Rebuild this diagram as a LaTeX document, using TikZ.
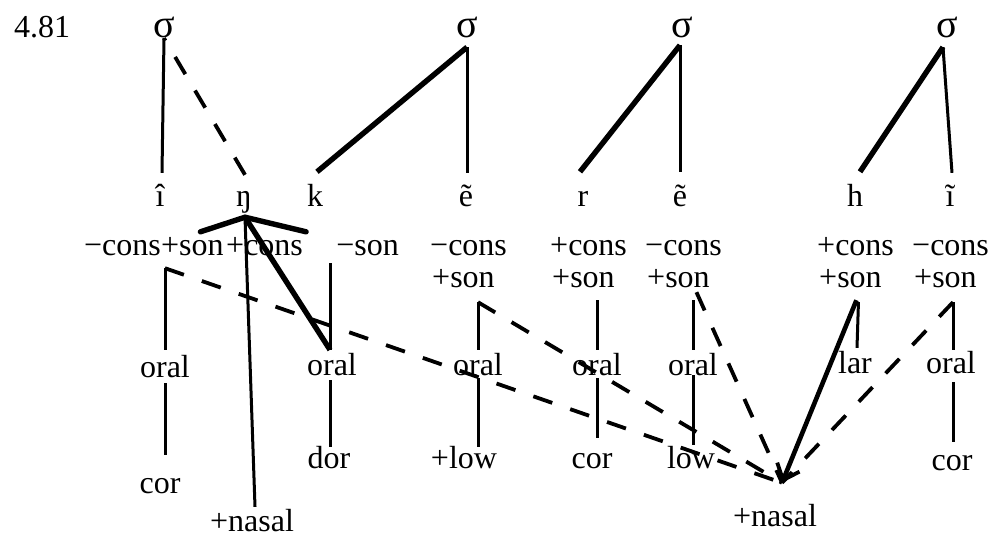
\documentclass[tikz,border=0pt]{standalone}
\usepackage{fontspec}
\setmainfont{Liberation Serif}
\usetikzlibrary{calc,arrows.meta}
\tikzset{
  lab/.style={inner sep=0pt, text height=14pt, text depth=0pt, anchor=base, font=\fontsize{32}{38}\selectfont},
  sig/.style={lab, font=\fontsize{40}{46}\selectfont},
  labw/.style={lab, anchor=base west},
  labe/.style={lab, anchor=base east},
  thinln/.style={line width=3pt},
  thickln/.style={line width=5.4pt},
  dashln/.style={line width=3.8pt, dash pattern=on 20pt off 19pt},
  arrowln/.style={line width=4.6pt, -{Straight Barb[length=14pt,width=24pt,line width=3.8pt]}}
}
\begin{document}
\begin{tikzpicture}[x=1pt,y=-1pt]
\useasboundingbox (0,0) rectangle (991,536);
% label
\node[lab] (num) at (42,37) {4.81};
% syllables
\node[sig] (s1) at (164,37) {σ};
\node[sig] (s2) at (467,37) {σ};
\node[sig] (s3) at (682,37) {σ};
\node[sig] (s4) at (947,37) {σ};
% segments
\node[lab] (i1) at (160,206) {î};
\node[lab] (ng) at (244,206) {ŋ};
\node[lab] (k)  at (315,206) {k};
\node[lab] (e1) at (466,206) {ẽ};
\node[lab] (r)  at (583,206) {r};
\node[lab] (e2) at (680,206) {ẽ};
\node[lab] (h)  at (855,206) {h};
\node[lab] (i2) at (950,206) {ĩ};
% feature row 1
\node[labw] (fa) at (84,255) {−cons};
\node[labw] (fb) at (161,255) {+son};
\node[labw] (fc) at (226,255) {+cons};
\node[labe] (fd) at (399,255) {−son};
\node[labw] (g3a) at (430,255) {−cons};
\node[labw] (g3b) at (432,287) {+son};
\node[labw] (g4a) at (550,255) {+cons};
\node[labw] (g4b) at (552,287) {+son};
\node[labw] (g5a) at (645,255) {−cons};
\node[labw] (g5b) at (647,287) {+son};
\node[labw] (g7a) at (817,255) {+cons};
\node[labw] (g7b) at (819,287) {+son};
\node[labw] (g8a) at (912,255) {−cons};
\node[labw] (g8b) at (914,287) {+son};
% oral row
\node[lab] (o1) at (165,377) {oral};
\node[lab] (o2) at (332,375) {oral};
\node[lab] (o3) at (478,375) {oral};
\node[lab] (o4) at (597,375) {oral};
\node[lab] (o5) at (693,375) {oral};
\node[lab] (lar) at (855,373) {lar};
\node[lab] (o8) at (951,373) {oral};
% bottom row
\node[lab] (cor1) at (160,493) {cor};
\node[lab] (dor) at (329,468) {dor};
\node[lab] (low3) at (464,468) {+low};
\node[lab] (cor4) at (592,468) {cor};
\node[lab] (low5) at (691,468) {low};
\node[lab] (cor8) at (952,470) {cor};
\node[lab] (nas1) at (252,531) {+nasal};
\node[lab] (nas2) at (775,526) {+nasal};
\coordinate (tip) at ($(nas2.north)+(7,-29)$);
% syllable links
\draw[thinln] ($(i1.north)+(2,-19)$) -- ($(s1.south)+(0,1)$);
\draw[dashln] ($(ng.north)+(1,-17)$) -- ($(s1.south)+(0,1)$);
\draw[thickln] ($(k.north)+(2,-20)$) -- ($(s2.south)+(0,10)$);
\draw[thinln] ($(e1.north)+(1,-19)$) -- ($(s2.south)+(0,10)$);
\draw[thickln] ($(r.north)+(-3,-20)$) -- ($(s3.south)+(-2,8)$);
\draw[thinln] ($(e2.north)+(0,-20)$) -- ($(s3.south)+(-2,8)$);
\draw[thickln] ($(h.north)+(5,-20)$) -- ($(s4.south)+(-4,10)$);
\draw[thinln] ($(i2.north)+(2,-19)$) -- ($(s4.south)+(-4,10)$);
% eng branches
\coordinate (J) at ($(ng.south)+(1,11)$);
\draw[thickln, line cap=round] ($(fb.north)+(8,-9)$) -- (J) -- ($(fc.north east)+(3,-9)$);
\draw[thickln] (J) -- ($(o2.north)+(-2,-11)$);
\draw[thinln] (J) -- ($(nas1.north)+(3,-10)$);
% column 1
\draw[thinln] ($(o1.north |- fa.south)+(0,13)$) -- ($(o1.north)+(0,-13)$);
\draw[thinln] ($(o1.south)+(0,6)$) -- ($(cor1.north)+(5,-24)$);
% column 2
\draw[thinln] ($(o2.north |- fd.south)+(-2,8)$) -- ($(o2.north)+(-2,-11)$);
\draw[thinln] ($(o2.south)+(-2,5)$) -- ($(dor.north)+(1,-7)$);
% column 3
\draw[thinln] ($(o3.north |- g3b.south)+(0,15)$) -- ($(o3.north)+(0,-11)$);
\draw[thinln] ($(o3.south)+(0,3)$) -- ($(low3.north)+(14,-7)$);
% column 4
\draw[thinln] ($(o4.north |- g4b.south)+(0,13)$) -- ($(o4.north)+(0,-11)$);
\draw[thinln] ($(o4.south)+(0,3)$) -- ($(cor4.north)+(5,-16)$);
% column 5
\draw[thinln] ($(o5.north |- g5b.south)+(0,13)$) -- ($(o5.north)+(0,-11)$);
\draw[thinln] ($(o5.south)+(0,0)$) -- ($(low5.north)+(2,-9)$);
% column 7
\draw[thinln] ($(g7b.south)+(8,15)$) -- ($(lar.north)+(2,-11)$);
% column 8
\draw[thinln] ($(o8.north |- g8b.south)+(2,15)$) -- ($(o8.north)+(2,-9)$);
\draw[thinln] ($(o8.south)+(2,9)$) -- ($(cor8.north)+(1,-14)$);
% spreading
\draw[dashln] ($(o1.north |- fa.south)+(0,13)$) -- (tip);
\draw[dashln] ($(o3.north |- g3b.south)+(0,15)$) -- (tip);
\draw[dashln] ($(g5b.south)+(18,5)$) -- (tip);
\draw[dashln] ($(o8.north |- g8b.south)+(2,15)$) -- (tip);
\draw[arrowln] ($(g7b.south)+(6,13)$) -- (tip);
\end{tikzpicture}
\end{document}
